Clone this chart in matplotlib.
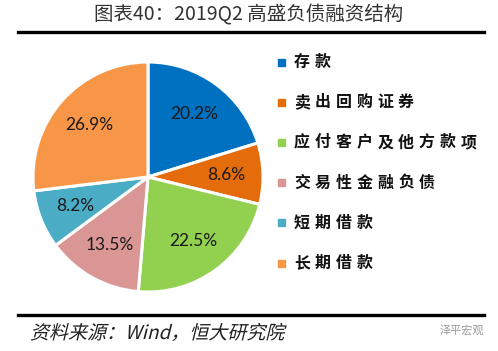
import matplotlib.pyplot as plt
from matplotlib.patches import Rectangle, PathPatch
from matplotlib.textpath import TextPath
from matplotlib.font_manager import FontProperties
from matplotlib.transforms import Affine2D

plt.rcParams['font.family'] = ['Noto Sans CJK SC', 'DejaVu Sans']

# data
categories = ['存款', '卖出回购证券', '应付客户及他方款项', '交易性金融负债', '短期借款', '长期借款']
shares = [20.2, 8.6, 22.5, 13.5, 8.2, 26.9]
colors = ['#0070C0', '#E46C0A', '#92D050', '#D99694', '#4BACC6', '#F79646']

W, H = 498, 351
fig = plt.figure(figsize=(W / 100, H / 100), dpi=100)
px = Affine2D().scale(1 / 100) + fig.dpi_scale_trans  # pixel coords from bottom-left

# title and rules
fig.text(0.5, 0.958, '图表40：2019Q2 高盛负债融资结构', ha='center', va='center',
         fontsize=14, color='#333333', fontweight='light')
fig.add_artist(plt.Line2D([0.036, 0.972], [0.91, 0.91], color='black', lw=2.4))
fig.add_artist(plt.Line2D([0.036, 0.972], [0.103, 0.103], color='black', lw=2.4))

# slanted source note (text path with a skew)
fp = FontProperties(family='Noto Sans CJK SC', weight='light')
tp = TextPath((0, 0), '资料来源：Wind，恒大研究院', prop=fp, size=19)
tp = Affine2D().skew_deg(14, 0).translate(30, 12).transform_path(tp)
fig.add_artist(PathPatch(tp, facecolor='#222222', edgecolor='none', transform=px))

fig.text(0.972, 0.058, '泽平宏观', ha='right', va='center', fontsize=8, color='#999999')

# pie
R = 115
cx, cy = 148, H - 177
side = 2 * 1.25 * R
ax = fig.add_axes([(cx - side / 2) / W, (cy - side / 2) / H, side / W, side / H])
wedges, texts, autotexts = ax.pie(
    shares, colors=colors, startangle=90, counterclock=False,
    autopct=lambda p: f'{p:.1f}%', pctdistance=0.68,
    wedgeprops=dict(edgecolor='white', linewidth=2.2),
    textprops=dict(fontsize=12.5, color='#1a1a1a', family=['Lato', 'DejaVu Sans']))
ax.set_aspect('equal')

# legend, characters spread out like the original
pitch = 20.8
for i, (lab, c) in enumerate(zip(categories, colors)):
    y = H - (62 + i * 40.2)
    fig.add_artist(Rectangle((278, y - 3.5), 7, 7, color=c, transform=px))
    for j, ch in enumerate(lab):
        fig.text((302 + j * pitch) / W, y / H, ch, ha='center', va='center',
                 fontsize=11.5, fontweight='bold', color='#111111')

fig.savefig('out.png', dpi=100)
